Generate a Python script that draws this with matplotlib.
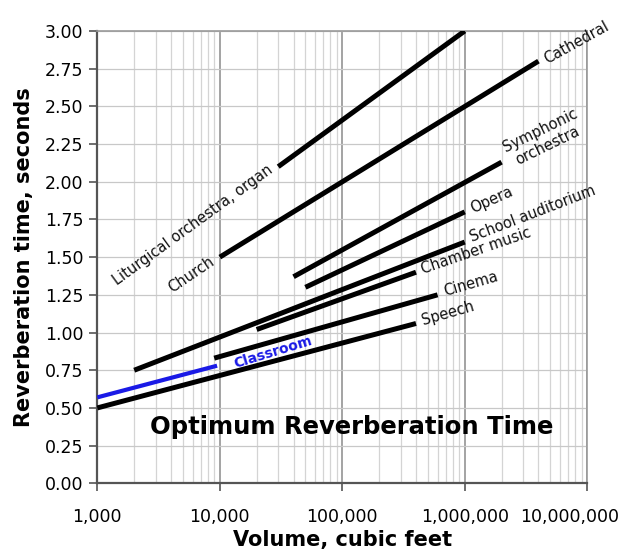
"""
Optimum reverberation time vs room volume (log scale).
"""

import matplotlib
matplotlib.use("Agg")
import matplotlib.pyplot as plt
from matplotlib.ticker import FuncFormatter, LogLocator, MultipleLocator
from matplotlib.transforms import ScaledTranslation

# Data: each room type is a straight segment (start/end volume, start/end time)
rooms = ["Liturgical orchestra, organ", "Church", "Symphonic\norchestra", "Opera",
         "School auditorium", "Chamber music", "Cinema", "Speech", "Classroom"]
vol_start = [30000, 10000, 40000, 50000, 2000, 20000, 9000, 1000, 1000]
vol_end = [1000000, 4000000, 2000000, 1000000, 1000000, 400000, 600000, 400000, 9500]
rt_start = [2.10, 1.50, 1.37, 1.30, 0.75, 1.02, 0.83, 0.50, 0.57]
rt_end = [3.00, 2.80, 2.13, 1.80, 1.60, 1.40, 1.25, 1.06, 0.78]
line_colors = ["black"] * 8 + ["#1a1ae6"]

x_ticks = [1000, 10000, 100000, 1000000, 10000000]

fig = plt.figure(figsize=(6.24, 5.54), dpi=100)
ax = fig.add_axes([0.156, 0.1276, 0.785, 0.8165])

ax.set_xscale("log")
ax.set_xlim(1000, 10000000)
ax.set_ylim(0, 3)

# grid
ax.xaxis.set_minor_locator(LogLocator(base=10, subs=range(2, 10)))
ax.yaxis.set_major_locator(MultipleLocator(0.25))
ax.grid(which="minor", axis="x", color="#d4d4d4", linewidth=0.9)
ax.grid(which="major", axis="x", color="#8a8a8a", linewidth=1.1)
ax.grid(which="major", axis="y", color="#c8c8c8", linewidth=0.9)
ax.set_axisbelow(True)

for i in range(len(rooms)):
    lw = 3.6 if i < 8 else 3.0
    ax.plot([vol_start[i], vol_end[i]], [rt_start[i], rt_end[i]],
            color=line_colors[i], linewidth=lw, solid_capstyle="butt", zorder=3)

# labels along the lines
lab = dict(fontsize=10.5, color="#111111", rotation_mode="anchor", zorder=4)
ax.text(vol_start[0] * 0.88, rt_start[0] - 0.01, rooms[0], rotation=36,
        ha="right", va="center", **lab)
ax.text(vol_start[1] * 0.88, rt_start[1] - 0.02, rooms[1], rotation=34,
        ha="right", va="center", **lab)
ax.text(vol_end[1] * 1.12, rt_end[1] + 0.01, "Cathedral", rotation=29,
        ha="left", va="center", **lab)
ax.text(vol_end[2] * 1.12, rt_end[2] + 0.04, rooms[2], rotation=26,
        ha="left", va="center", multialignment="center", **lab)
ax.text(vol_end[3] * 1.12, rt_end[3] + 0.02, rooms[3], rotation=24,
        ha="left", va="center", **lab)
ax.text(vol_end[4] * 1.12, rt_end[4] + 0.03, rooms[4], rotation=21,
        ha="left", va="center", **lab)
ax.text(vol_end[5] * 1.12, rt_end[5] + 0.015, rooms[5], rotation=19,
        ha="left", va="center", **lab)
ax.text(vol_end[6] * 1.12, rt_end[6] + 0.02, rooms[6], rotation=16,
        ha="left", va="center", **lab)
ax.text(vol_end[7] * 1.12, rt_end[7] + 0.02, rooms[7], rotation=16,
        ha="left", va="center", **lab)
ax.text(27000, 0.87, rooms[8], rotation=17, ha="center", va="center",
        fontsize=10, fontweight="bold", color="#1a1ae6",
        rotation_mode="anchor", zorder=4)

ax.text(0.52, 0.125, "Optimum Reverberation Time", transform=ax.transAxes,
        ha="center", va="center", fontsize=17.5, fontweight="bold", zorder=4)

# axes styling
ax.set_xticks(x_ticks)
ax.xaxis.set_major_formatter(FuncFormatter(lambda v, p: f"{int(round(v)):,}"))
ax.yaxis.set_major_formatter(FuncFormatter(lambda v, p: f"{v:.2f}"))
ax.tick_params(axis="both", which="major", labelsize=12.5, length=6,
               width=1.2, color="#555555")
ax.tick_params(axis="x", which="major", pad=12)
ax.tick_params(axis="y", which="major", pad=4)
ax.tick_params(axis="x", which="minor", length=0)

# last x label is pulled inward so it fits in the figure
last = ax.get_xticklabels()[-1]
last.set_transform(last.get_transform() +
                   ScaledTranslation(-0.18, 0, fig.dpi_scale_trans))

for side in ["left", "bottom"]:
    ax.spines[side].set_color("#555555")
    ax.spines[side].set_linewidth(1.6)
for side in ["top", "right"]:
    ax.spines[side].set_color("#999999")
    ax.spines[side].set_linewidth(1.2)

ax.set_xlabel("Volume, cubic feet", fontsize=15, fontweight="bold", labelpad=3)
ax.set_ylabel("Reverberation time, seconds", fontsize=15, fontweight="bold",
              labelpad=8)

plt.savefig("out.png", dpi=100, facecolor="white")
